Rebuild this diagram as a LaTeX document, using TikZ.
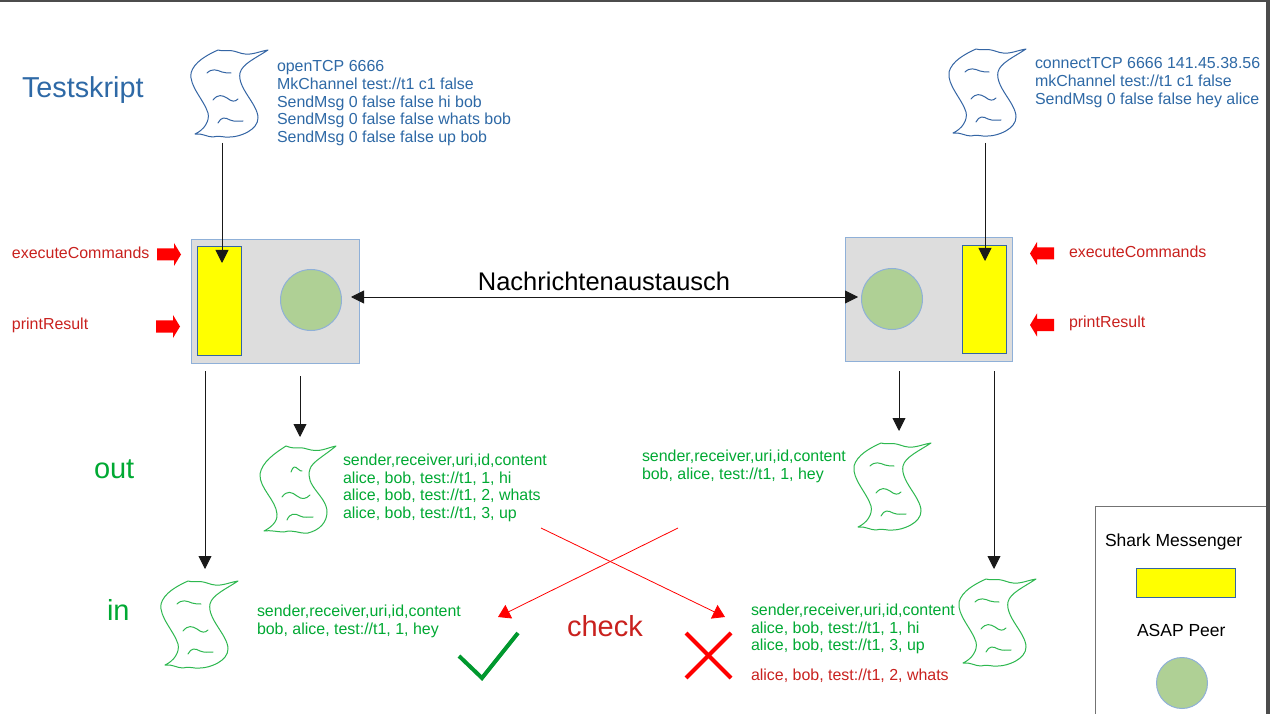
\documentclass[tikz,border=0pt]{standalone}
\usepackage{fontspec}
\setmainfont{Liberation Sans}
\usetikzlibrary{arrows.meta}
\definecolor{tblue}{HTML}{2E69A6}
\definecolor{tgreen}{HTML}{00A933}
\definecolor{tred}{HTML}{C9211E}
\definecolor{peerfill}{HTML}{DDDDDD}
\definecolor{peerline}{HTML}{8FB0D8}
\definecolor{circfill}{HTML}{AFD095}
\definecolor{scrollblue}{HTML}{3465A4}
\definecolor{scrollgreen}{HTML}{2DB84F}
\definecolor{pureyellow}{HTML}{FFFF00}
\definecolor{purered}{HTML}{FF0000}
\newcommand{\fs}[1]{\fontsize{#1}{#1}\selectfont}
\tikzset{
  x=1pt,y=-1pt,
  peerbox/.style={draw=peerline,fill=peerfill,line width=1pt},
  sharkbox/.style={draw=scrollblue,fill=pureyellow,line width=1pt},
  peercirc/.style={draw=peerline,fill=circfill,line width=1pt},
  conn/.style={draw=black!90,line width=0.9pt,-{Triangle[length=13pt,width=13pt]}},
  biconn/.style={draw=black!90,line width=0.9pt,{Triangle[length=13pt,width=13pt]}-{Triangle[length=13pt,width=13pt]}},
  redconn/.style={draw=purered,line width=0.8pt,-{Triangle[length=12pt,width=15pt,fill=purered]}},
  txt/.style={anchor=west,inner sep=0pt,outer sep=0pt,align=left,font=\fs{15.95}},
  scrollline/.style={line width=1pt,line join=round,line cap=round},
  pics/scrollbody/.style={code={
    \draw[scrollline,#1]
      (78,4) .. controls (66,6) and (60,11) .. (47,6)
      .. controls (38,3) and (36,6) .. (28,4)
      .. controls (17,9) and (4,16) .. (1,27)
      .. controls (-1,40) and (14,54) .. (18,67)
      .. controls (20,75) and (14,84) .. (5,88)
      .. controls (12,87) and (17,91) .. (23,91)
      .. controls (31,89) and (34,92) .. (40,91)
      .. controls (50,91) and (68,84) .. (68,72)
      .. controls (68,58) and (47,42) .. (50,27)
      .. controls (52,18) and (66,12) .. (78,4);
    \draw[scrollline,#1] (17,27) .. controls (22,22) and (27,24) .. (32,26) .. controls (35,27) and (38,27) .. (41,27);
    \draw[scrollline,#1] (23,54) .. controls (28,48) and (32,49) .. (37,52) .. controls (42,56) and (45,56) .. (48,53);
    \draw[scrollline,#1] (28,77) .. controls (31,71) and (35,71) .. (40,74) .. controls (45,76) and (49,75) .. (53,75);
  }},
  pics/scrollalt/.style={code={
    \draw[scrollline,#1]
      (76,2) .. controls (66,4) and (60,9) .. (47,5)
      .. controls (38,2) and (36,6) .. (26,2)
      .. controls (15,9) and (2,18) .. (0,30)
      .. controls (-1,44) and (16,56) .. (17,70)
      .. controls (18,78) and (10,84) .. (4,87)
      .. controls (12,86) and (17,88) .. (24,88)
      .. controls (34,85) and (38,90) .. (48,89)
      .. controls (60,86) and (67,78) .. (67,68)
      .. controls (67,52) and (44,42) .. (50,25)
      .. controls (52,18) and (64,12) .. (76,2);
    \draw[scrollline,#1] (31,28) .. controls (33,22) and (35,22) .. (38,25) .. controls (40,27) and (41,27) .. (42,27);
    \draw[scrollline,#1] (22,53) .. controls (27,46) and (32,48) .. (37,52) .. controls (42,56) and (46,55) .. (50,51);
    \draw[scrollline,#1] (27,76) .. controls (30,69) and (35,69) .. (40,72) .. controls (44,74) and (48,73) .. (53,73);
  }},
  pics/rarrowR/.style={code={
    \fill[purered] (0,-6) -- (17,-6) -- (17,-11.5) -- (24,0) -- (17,11.5) -- (17,6) -- (0,6) -- cycle;
  }},
  pics/rarrowL/.style={code={
    \fill[purered] (0,-6) -- (-17,-6) -- (-17,-11.5) -- (-24,0) -- (-17,11.5) -- (-17,6) -- (0,6) -- cycle;
  }},
}
\begin{document}
\begin{tikzpicture}
\useasboundingbox (0,0) rectangle (1270,714);
\fill[white] (0,0) rectangle (1270,714);
\fill[black!70] (0,0) rectangle (1270,2);
\fill[black!70] (1266,0) rectangle (1270,714);

% scrolls
\pic at (190,46) {scrollbody=scrollblue};
\pic at (948,45) {scrollbody=scrollblue};
\pic at (260,444) {scrollalt=scrollgreen};
\pic at (853,439) {scrollbody=scrollgreen};
\pic at (160,577) {scrollbody=scrollgreen};
\pic at (958,575) {scrollbody=scrollgreen};

% peers
\node[peerbox,anchor=north west,minimum width=168pt,minimum height=124pt,inner sep=0pt] (peerL) at (191,239) {};
\node[peerbox,anchor=north west,minimum width=167pt,minimum height=124pt,inner sep=0pt] (peerR) at (845,237) {};
\node[sharkbox,anchor=north west,minimum width=44pt,minimum height=109pt,inner sep=0pt] (sharkL) at (197,246) {};
\node[sharkbox,anchor=north west,minimum width=44pt,minimum height=108pt,inner sep=0pt] (sharkR) at (962,245) {};
\node[peercirc,circle,minimum size=61pt,inner sep=0pt] (asapL) at (311,300) {};
\node[peercirc,circle,minimum size=61pt,inner sep=0pt] (asapR) at (892,299) {};

% text
\node[txt,tblue,font=\fs{28.8}] (title) at (22,90.5) {Testskript};
\node[txt,tblue,anchor=north west] (cmdL) at (277,60) {openTCP 6666\\[2pt]MkChannel test://t1 c1 false\\[2pt]SendMsg 0 false false hi bob\\[2pt]SendMsg 0 false false whats bob\\[2pt]SendMsg 0 false false up bob};
\node[txt,tblue,anchor=north west] (cmdR) at (1035,57.5) {connectTCP 6666 141.45.38.56\\[2pt]mkChannel test://t1 c1 false\\[2pt]SendMsg 0 false false hey alice};
\node[txt,tred] (execL) at (12,253) {executeCommands};
\node[txt,tred] (printL) at (12,325.5) {printResult};
\node[txt,tred] (execR) at (1069,252) {executeCommands};
\node[txt,tred] (printR) at (1069,323.5) {printResult};
\node[txt,black,anchor=center,font=\fs{25.5}] (msg) at (604,281) {Nachrichtenaustausch};
\node[txt,tgreen,font=\fs{29}] (outl) at (94,469) {out};
\node[txt,tgreen,font=\fs{29}] (inl) at (107,610) {in};
\node[txt,tred,font=\fs{29}] (check) at (567,626.5) {check};
\node[txt,tgreen,anchor=north west] (outA) at (343,453.5) {sender,receiver,uri,id,content\\[2pt]alice, bob, test://t1, 1, hi\\[2pt]alice, bob, test://t1, 2, whats\\[2pt]alice, bob, test://t1, 3, up};
\node[txt,tgreen,anchor=north west] (outB) at (642,449.5) {sender,receiver,uri,id,content\\[2pt]bob, alice, test://t1, 1, hey};
\node[txt,tgreen,anchor=north west] (inA) at (257,604.5) {sender,receiver,uri,id,content\\[2pt]bob, alice, test://t1, 1, hey};
\node[txt,tgreen,anchor=north west] (inB) at (751,603.5) {sender,receiver,uri,id,content\\[2pt]alice, bob, test://t1, 1, hi\\[2pt]alice, bob, test://t1, 3, up};
\node[txt,tred] (missing) at (751,676) {alice, bob, test://t1, 2, whats};

% red block arrows
\pic at (157,254.5) {rarrowR};
\pic at (156,326.5) {rarrowR};
\pic at (1054,253.5) {rarrowL};
\pic at (1054,325) {rarrowL};

% connectors
\coordinate (s1) at (222,143);
\coordinate (s1e) at (222,263);
\coordinate (s2) at (985,143);
\coordinate (s2e) at (985,261);
\draw[conn] (s1) -- (s1e);
\draw[conn] (s2) -- (s2e);
\coordinate (ml) at (351,297);
\coordinate (mr) at (858,297);
\draw[biconn] (ml) -- (mr);
\coordinate (d1) at (205,371); \coordinate (d1e) at (205,569);
\coordinate (d2) at (300,376); \coordinate (d2e) at (300,437);
\coordinate (d3) at (899,371); \coordinate (d3e) at (899,431);
\coordinate (d4) at (994,371); \coordinate (d4e) at (994,569);
\draw[conn] (d1) -- (d1e);
\draw[conn] (d2) -- (d2e);
\draw[conn] (d3) -- (d3e);
\draw[conn] (d4) -- (d4e);
\coordinate (x1) at (541,528); \coordinate (x1e) at (725,617);
\coordinate (x2) at (678,528); \coordinate (x2e) at (498,617);
\draw[redconn] (x1) -- (x1e);
\draw[redconn] (x2) -- (x2e);

% check and cross
\draw[tgreen!90!black,line width=4pt] (459,656) -- (482,678) -- (518,633);
\draw[purered,line width=4pt] (686,633) -- (731,678);
\draw[purered,line width=4pt] (731,633) -- (686,678);

% legend
\draw[black!55,line width=1pt] (1095,714) -- (1095,506) -- (1266,506);
\node[txt,black,font=\fs{17.5}] (lgA) at (1105,541.5) {Shark Messenger};
\node[sharkbox,anchor=north west,minimum width=99pt,minimum height=29pt,inner sep=0pt] (lgY) at (1136,568) {};
\node[txt,black,font=\fs{17.5}] (lgB) at (1137,630.5) {ASAP Peer};
\node[peercirc,circle,minimum size=51pt,inner sep=0pt] (lgC) at (1182,683) {};
\end{tikzpicture}
\end{document}
